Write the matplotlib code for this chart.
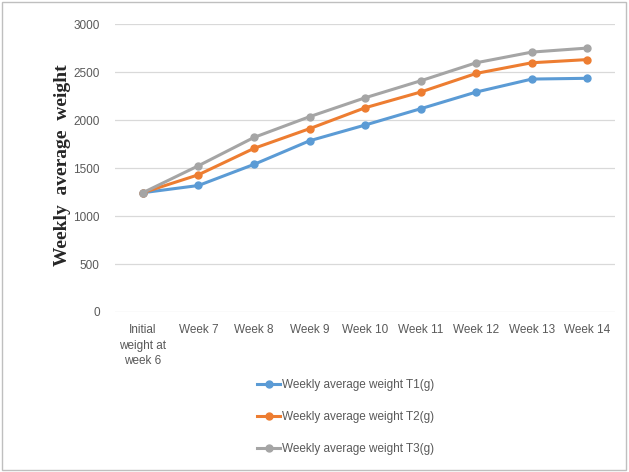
import matplotlib.pyplot as plt
from matplotlib.patches import Rectangle

categories = ["Initial\nweight at\nweek 6", "Week 7", "Week 8", "Week 9", "Week 10",
              "Week 11", "Week 12", "Week 13", "Week 14"]
t1 = [1243, 1318, 1538, 1784, 1948, 2118, 2292, 2427, 2435]
t2 = [1243, 1430, 1705, 1910, 2128, 2292, 2486, 2597, 2630]
t3 = [1243, 1524, 1819, 2035, 2232, 2409, 2597, 2708, 2750]
series_labels = ["Weekly average weight T1(g)", "Weekly average weight T2(g)",
                 "Weekly average weight T3(g)"]
colors = ["#5B9BD5", "#ED7D31", "#A5A5A5"]


def main():
    plt.rcParams["font.family"] = ["Liberation Sans", "DejaVu Sans"]
    fig = plt.figure(figsize=(6.29, 4.72), dpi=100)
    ax = fig.add_axes([0.183, 0.339, 0.795, 0.610])

    x = list(range(len(categories)))
    for vals, lab, c in zip([t1, t2, t3], series_labels, colors):
        ax.plot(x, vals, color=c, linewidth=2.2, marker="o", markersize=5, label=lab)

    ax.set_xlim(-0.5, len(categories) - 0.5)
    ax.set_ylim(0, 3000)
    ax.set_yticks(range(0, 3001, 500))
    ax.set_xticks(x)
    ax.set_xticklabels(categories, fontsize=8.5, color="#595959", va="top", linespacing=1.35)
    ax.tick_params(axis="y", labelsize=8.5, labelcolor="#595959", length=0, pad=11)
    ax.tick_params(axis="x", length=0, pad=9)
    ax.grid(axis="y", color="#D9D9D9", linewidth=0.9)
    ax.set_axisbelow(True)
    for s in ax.spines.values():
        s.set_visible(False)

    fig.text(0.100, 0.65, "Weekly  average  weight", rotation=90, ha="center", va="center",
             fontsize=14, fontweight="bold", family="Liberation Serif", color="#262626")

    fig.legend(loc="upper center", bbox_to_anchor=(0.55, 0.219), frameon=False,
               fontsize=8.5, labelspacing=1.68, handlelength=1.9, handletextpad=0.2,
               labelcolor="#595959")

    fig.patches.append(Rectangle((0.003, 0.004), 0.992, 0.992, transform=fig.transFigure,
                                 fill=False, edgecolor="#BFBFBF", linewidth=1))

    fig.savefig("out.png", dpi=100)
    plt.close(fig)


if __name__ == "__main__":
    main()
